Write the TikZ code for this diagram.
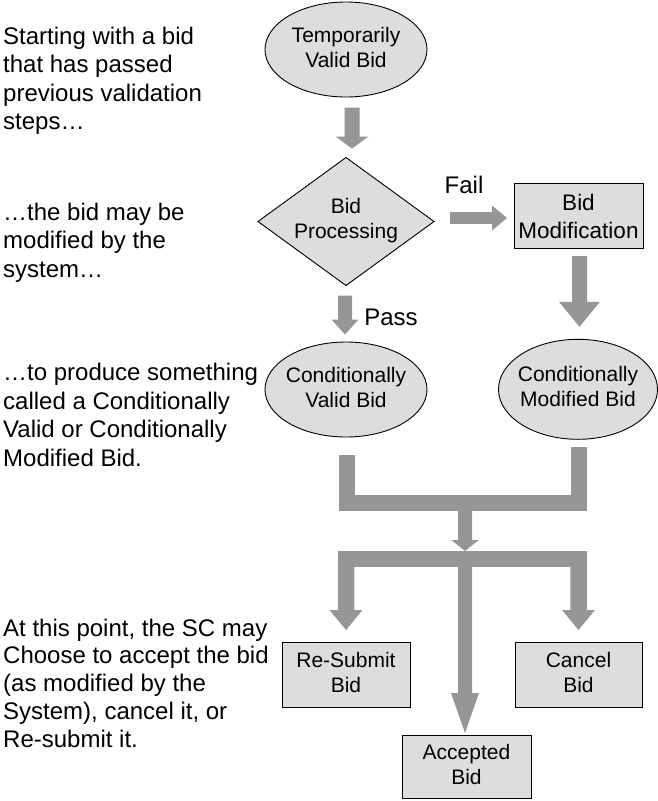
\documentclass[tikz,border=0pt]{standalone}
\usepackage{fontspec}
\setmainfont{Liberation Sans}
\usetikzlibrary{shapes.geometric,calc}
\definecolor{shapefill}{HTML}{DDDDDD}
\definecolor{arrowgray}{HTML}{969696}
\newcommand\mynodefont{\fontsize{21}{25}\selectfont}
\newcommand\mybigfont{\fontsize{22.5}{28}\selectfont}
\newcommand\mysidefont{\fontsize{24}{28.5}\selectfont}
\newcommand\mysidefontb{\fontsize{24}{27.7}\selectfont}
\newcommand\mylabelfont{\fontsize{24}{28}\selectfont}
% block arrow pointing down: #1 start, #2 tip, #3 half shaft, #4 half head, #5 head length
\newcommand\garrowdown[5]{\fill[arrowgray] let \p1=(#1), \p2=(#2) in
  (\x1-#3,\y1) -- (\x1+#3,\y1) -- (\x1+#3,\y2+#5) -- (\x1+#4,\y2+#5) -- (\x1,\y2)
  -- (\x1-#4,\y2+#5) -- (\x1-#3,\y2+#5) -- cycle;}
% block arrow pointing right
\newcommand\garrowright[5]{\fill[arrowgray] let \p1=(#1), \p2=(#2) in
  (\x1,\y1-#3) -- (\x1,\y1+#3) -- (\x2-#5,\y1+#3) -- (\x2-#5,\y1+#4) -- (\x2,\y1)
  -- (\x2-#5,\y1-#4) -- (\x2-#5,\y1-#3) -- cycle;}
\begin{document}
\begin{tikzpicture}[x=1pt,y=-1pt,
  shp/.style={draw=black,line width=0.9pt,fill=shapefill,inner sep=0pt,outer sep=0pt},
  ell/.style={shp,ellipse},
  dia/.style={shp,diamond},
  rbox/.style={shp,rectangle,align=center,font=\mynodefont},
  ntext/.style={align=center,font=\mynodefont,inner sep=0pt},
  side/.style={anchor=north west,align=left,inner sep=0pt,font=\mysidefont},
  lbl/.style={anchor=base,inner sep=0pt,font=\mylabelfont},
  gbar/.style={draw=arrowgray,line width=16pt,line join=miter}]
\useasboundingbox (0,0) rectangle (657,801);

% explanatory text on the left
\node[side] (t1) at (3,24) {\strut Starting with a bid\\\strut that has passed\\\strut previous validation\\\strut steps…};
\node[side] (t2) at (3,200) {\strut …the bid may be\\\strut modified by the\\\strut system…};
\node[side] (t3) at (3,360.5) {\strut …to produce something\\\strut called a Conditionally\\\strut Valid or Conditionally\\\strut Modified Bid.};
\node[side,font=\mysidefontb] (t4) at (3,616.6) {\strut At this point, the SC may\\\strut Choose to accept the bid\\\strut (as modified by the\\\strut System), cancel it, or\\\strut Re-submit it.};

% shapes
\node[ell,minimum width=162pt,minimum height=95pt] (tvb) at (346,49.5) {};
\node[ntext] (tvbt) at (tvb.center) {\strut Temporarily\\\strut Valid Bid};

\node[dia,minimum width=176pt,minimum height=128pt] (bp) at (346,221.5) {};
\node[ntext] (bpt) at ($(bp.center)+(0,-1)$) {\strut Bid\\\strut Processing};

\node[shp,rectangle,minimum width=129pt,minimum height=65pt] (bm) at (578.5,215.5) {};
\node[ntext,font=\mybigfont] (bmt) at ($(bm.center)+(0,3)$) {\strut Bid\\\strut Modification};

\node[ell,minimum width=162pt,minimum height=95pt] (cvb) at (346,389.5) {};
\node[ntext] (cvbt) at (cvb.center) {\strut Conditionally\\\strut Valid Bid};

\node[ell,minimum width=159pt,minimum height=100pt] (cmb) at (578,389.3) {};
\node[ntext] (cmbt) at (cmb.center) {\strut Conditionally\\\strut Modified Bid};

\node[rbox,minimum width=128pt,minimum height=65pt] (rsb) at (346,674.5) {\strut Re-Submit\\\strut Bid};
\node[rbox,minimum width=127pt,minimum height=65pt] (cb) at (578.5,674.5) {\strut Cancel\\\strut Bid};
\node[rbox,minimum width=129pt,minimum height=63pt] (ab) at (466.5,766.5) {\strut Accepted\\\strut Bid};

% labels
\node[lbl] (fail) at (464,193.3) {Fail};
\node[lbl] (pass) at (391,325) {Pass};

% connectors
\coordinate (a1s) at ($(tvb.south)+(6,10.5)$);
\coordinate (a1e) at ($(bp.north)+(6,-9)$);
\garrowdown{a1s}{a1e}{7.5pt}{16.5pt}{12pt}

\coordinate (afs) at ($(bp.east)+(16,-3.5)$);
\coordinate (afe) at ($(bm.west)+(-7,2.5)$);
\garrowright{afs}{afe}{5.8pt}{12.5pt}{15pt}

\coordinate (ars) at ($(bm.south)+(1,8)$);
\coordinate (are) at ($(cmb.north)+(1.5,-12.5)$);
\garrowdown{ars}{are}{7.5pt}{20.5pt}{25pt}

\coordinate (aps) at ($(bp.south)+(-1,10)$);
\coordinate (ape) at ($(cvb.north)+(-1,-7.5)$);
\garrowdown{aps}{ape}{7pt}{13.5pt}{15pt}

% merge bracket
\coordinate (mL) at ($(cvb.south)+(0.5,18)$);
\coordinate (mR) at ($(cmb.south)+(0.5,7.5)$);
\coordinate (jn) at (465,503);
\draw[gbar] (mL) |- (jn) -| (mR);

\coordinate (sp) at (465,559);
\coordinate (jt) at ($(sp)+(0,-8)$);
\garrowdown{jn}{jt}{7pt}{13.75pt}{11pt}

% split bracket
\coordinate (bL) at (rsb.north |- sp);
\coordinate (bR) at (cb.north |- sp);
\draw[gbar] ([xshift=-8.5pt]bL) -- ([xshift=8.5pt]bR);
\coordinate (bLe) at ($(rsb.north)+(0,-12)$);
\coordinate (bRe) at ($(cb.north)+(0,-12)$);
\coordinate (bMe) at ($(ab.north)+(-1.5,-2)$);
\garrowdown{bL}{bLe}{8.25pt}{16.5pt}{20pt}
\garrowdown{bR}{bRe}{8.25pt}{16.5pt}{20pt}
\garrowdown{sp}{bMe}{7pt}{14pt}{40pt}
\end{tikzpicture}
\end{document}
